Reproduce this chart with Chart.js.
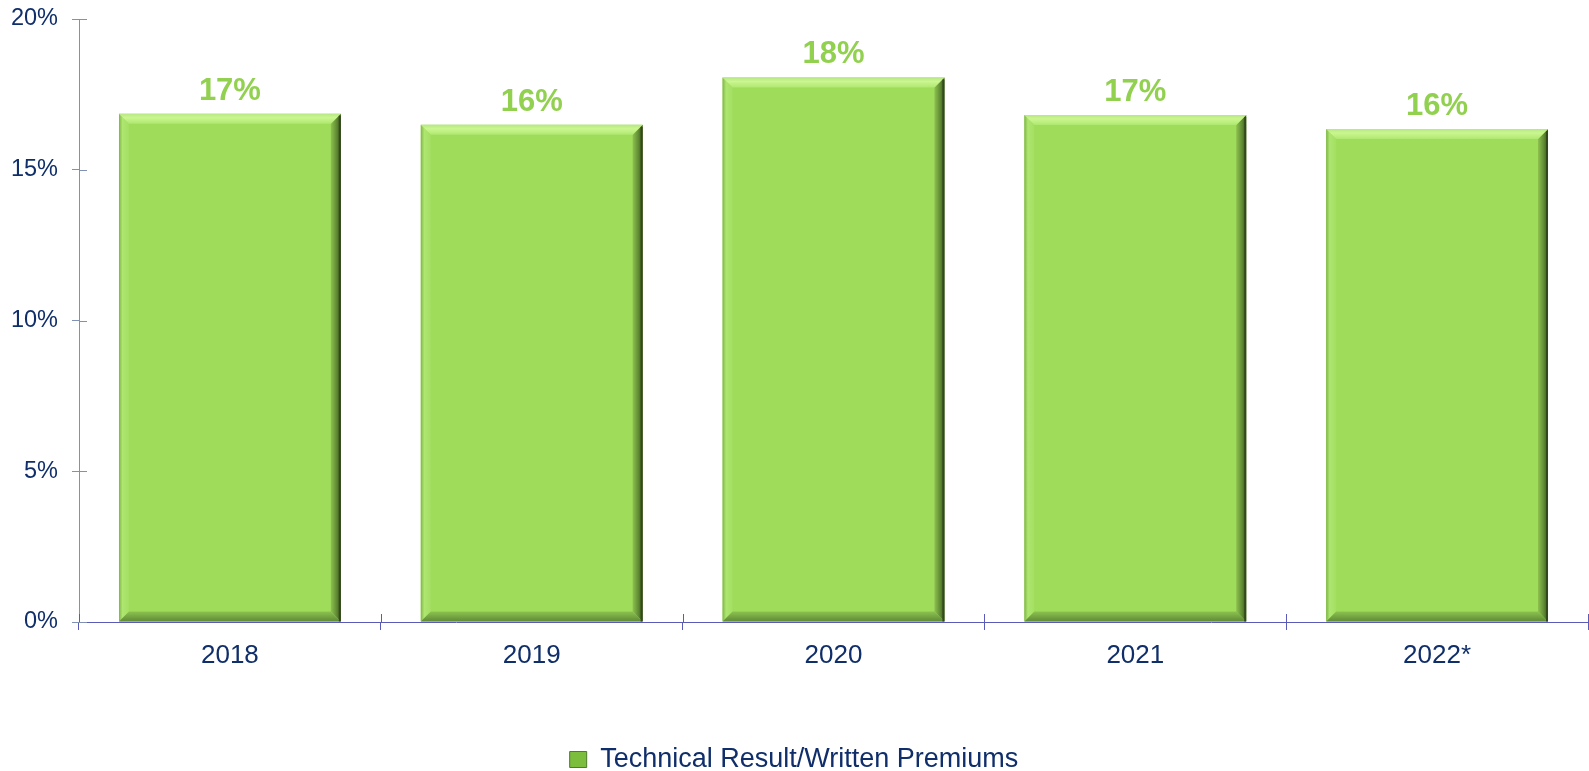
<!DOCTYPE html>
<html>
<head>
<meta charset="utf-8">
<script src="https://cdn.jsdelivr.net/npm/chart.js@4/dist/chart.umd.min.js"></script>
<style>
  html, body { margin: 0; padding: 0; background: #ffffff; }
  #wrap { width: 1589px; height: 771px; position: relative; }
</style>
</head>
<body>
<div id="wrap"><canvas id="c" width="1589" height="771"></canvas></div>
<script>
const categories = ['2018', '2019', '2020', '2021', '2022*'];
const values = [16.86, 16.49, 18.06, 16.82, 16.35];
const valueLabels = ['17%', '16%', '18%', '17%', '16%'];
const seriesName = 'Technical Result/Written Premiums';
const yTicks = [0, 5, 10, 15, 20];

const NAVY = '#0F2E6A';
const LABEL_GREEN = '#92D050';
const BAR_GREEN = '#9EDC5A';
const FONT = '"Liberation Sans", Arial, sans-serif';
const PAD_BOTTOM = -12;
const PAD_TOP = 19;

const bevelPlugin = {
  id: 'bevel',
  afterDatasetsDraw(chart) {
    const ctx = chart.ctx;
    const meta = chart.getDatasetMeta(0);
    meta.data.forEach((bar, i) => {
      const l = bar.x - bar.width / 2, r = bar.x + bar.width / 2;
      const t = bar.y, b = bar.base;
      const k = 10;
      ctx.save();
      let g = ctx.createLinearGradient(l, 0, l + k, 0);
      g.addColorStop(0, '#7FB548'); g.addColorStop(0.35, '#AEE670'); g.addColorStop(1, '#A4DF62');
      ctx.fillStyle = g;
      ctx.beginPath(); ctx.moveTo(l, t); ctx.lineTo(l + k, t + k); ctx.lineTo(l + k, b - k); ctx.lineTo(l, b); ctx.closePath(); ctx.fill();
      g = ctx.createLinearGradient(r - k, 0, r, 0);
      g.addColorStop(0, '#8DC150'); g.addColorStop(0.6, '#5F8A33'); g.addColorStop(1, '#3A5220');
      ctx.fillStyle = g;
      ctx.beginPath(); ctx.moveTo(r, t); ctx.lineTo(r, b); ctx.lineTo(r - k, b - k); ctx.lineTo(r - k, t + k); ctx.closePath(); ctx.fill();
      g = ctx.createLinearGradient(0, b - k, 0, b);
      g.addColorStop(0, '#8CC24F'); g.addColorStop(1, '#5E8A35');
      ctx.fillStyle = g;
      ctx.beginPath(); ctx.moveTo(l, b); ctx.lineTo(r, b); ctx.lineTo(r - k, b - k); ctx.lineTo(l + k, b - k); ctx.closePath(); ctx.fill();
      g = ctx.createLinearGradient(0, t, 0, t + k);
      g.addColorStop(0, '#B6E883'); g.addColorStop(0.4, '#CBF690'); g.addColorStop(1, '#AEE870');
      ctx.fillStyle = g;
      ctx.beginPath(); ctx.moveTo(l, t); ctx.lineTo(r, t); ctx.lineTo(r - k, t + k); ctx.lineTo(l + k, t + k); ctx.closePath(); ctx.fill();
      ctx.fillStyle = '#34481E';
      ctx.fillRect(r - 2, t + 2, 2, b - t - 2);
      ctx.restore();

      ctx.save();
      ctx.fillStyle = LABEL_GREEN;
      ctx.font = 'bold 31px ' + FONT;
      ctx.textAlign = 'center';
      ctx.textBaseline = 'alphabetic';
      ctx.fillText(valueLabels[i], bar.x, t - 14);
      ctx.restore();
    });
  },
  afterDraw(chart) {
    const ctx = chart.ctx;
    const ys = chart.scales.y, xs = chart.scales.x;
    const area = chart.chartArea;
    ctx.save();
    ctx.lineWidth = 1;
    ctx.strokeStyle = '#8190B5';
    yTicks.forEach(v => {
      const py = Math.round(ys.getPixelForValue(v)) + 0.5;
      ctx.beginPath(); ctx.moveTo(area.left, py); ctx.lineTo(area.left + 8, py); ctx.stroke();
    });
    ctx.strokeStyle = '#5A5AB8';
    for (let i = 0; i <= categories.length; i++) {
      const px = Math.min(Math.round(xs.left + (xs.right - xs.left) * i / categories.length) + 0.5, 1588.5);
      ctx.beginPath(); ctx.moveTo(px, area.bottom); ctx.lineTo(px, area.bottom - 8); ctx.stroke();
    }
    ctx.restore();
  }
};

const ctx = document.getElementById('c').getContext('2d');
new Chart(ctx, {
  type: 'bar',
  data: {
    labels: categories,
    datasets: [{
      label: seriesName,
      data: values,
      backgroundColor: BAR_GREEN,
      borderWidth: 0,
      categoryPercentage: 1.0,
      barPercentage: 0.735
    }]
  },
  options: {
    responsive: false,
    animation: false,
    devicePixelRatio: 1,
    layout: { padding: { top: PAD_TOP, right: 1, left: 0, bottom: PAD_BOTTOM } },
    plugins: {
      legend: {
        display: true,
        position: 'bottom',
        labels: {
          color: NAVY,
          font: { family: FONT, size: 27 },
          boxWidth: 17,
          boxHeight: 16,
          padding: 6,
          generateLabels: () => [{
            text: seriesName,
            fillStyle: '#7CBD3E',
            strokeStyle: '#4E7A2A',
            fontColor: NAVY,
            lineWidth: 1,
            hidden: false,
            datasetIndex: 0
          }]
        }
      },
      tooltip: { enabled: false }
    },
    scales: {
      x: {
        grid: { display: true, drawOnChartArea: false, drawTicks: true, tickLength: 8, color: '#5A5AB8', offset: true },
        border: { display: true, color: '#5A5AB8', width: 1 },
        ticks: { color: NAVY, font: { family: FONT, size: 26 }, padding: 10, maxRotation: 0 },
        afterFit(scale) {
          scale.paddingLeft = 0; scale.paddingRight = 0;
          scale.height = 771 - PAD_BOTTOM - 622 - scale.chart.legend.height;
        }
      },
      y: {
        min: 0, max: 20,
        grid: { display: true, drawOnChartArea: false, drawTicks: true, tickLength: 7, color: '#8190B5' },
        border: { display: true, color: '#8190B5', width: 1 },
        ticks: {
          stepSize: 5,
          color: NAVY,
          font: { family: FONT, size: 23.5 },
          padding: 14,
          callback: v => v + '%'
        },
        afterFit(scale) {
          scale.width = 79;
          scale.paddingTop = 0; scale.paddingBottom = 0;
        }
      }
    }
  },
  plugins: [bevelPlugin]
});
</script>
</body>
</html>
